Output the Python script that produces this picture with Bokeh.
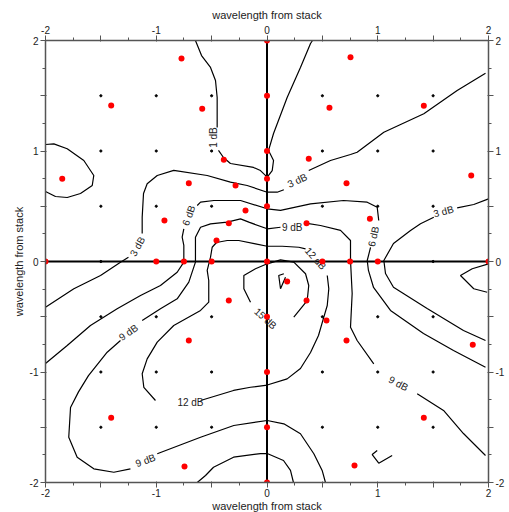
import itertools
from bokeh.plotting import figure
from bokeh.models import Range1d, LinearAxis, FixedTicker, Span
from bokeh.core.properties import value
from bokeh.embed import file_html
from bokeh.resources import INLINE

N = float("nan")

# ---- axis ticks ----
major_ticks = [-2, -1.5, -1, -0.5, 0, 0.5, 1, 1.5, 2]
minor_ticks = [-1.75, -1.25, -0.75, -0.25, 0.25, 0.75, 1.25, 1.75]
tick_labels = {-2: "-2", -1.5: "", -1: "-1", -0.5: "", 0: "0", 0.5: "", 1: "1", 1.5: "", 2: "2"}
axis_title = "wavelength from stack"

# ---- measurement grid (black dots) ----
grid_levels = [-1.5, -1, -0.5, 0.5, 1, 1.5]
grid_x = [gx for gx, gy in itertools.product(grid_levels, grid_levels)] + [-1.5, 1.5]
grid_y = [gy for gx, gy in itertools.product(grid_levels, grid_levels)] + [0, 0]

# ---- sample positions (red dots) ----
red_x = [-0.772, -1.407, -0.585, -1.849, -0.39, -0.706, -0.284, -0.194, -0.345, -0.926, -0.456,
         0.754, 0.564, 1.416, 0.377, 0.718, 1.844, 0.929, 0.357,
         0.182, 0.357, 0.537, 0.718, 1.858, 1.416, 0.79,
         -0.345, -0.706, -1.407, -0.745]
red_y = [1.837, 1.412, 1.382, 0.748, 0.92, 0.709, 0.688, 0.462, 0.347, 0.371, 0.19,
         1.849, 1.391, 1.409, 0.929, 0.709, 0.778, 0.386, 0.347,
         -0.181, -0.353, -0.534, -0.715, -0.754, -1.415, -1.846,
         -0.353, -0.715, -1.415, -1.855]
axis_red_y = [2, 1.5, 1, 0.75, 0.5, 0, -0.5, -1, -1.5, -2]
axis_red_x = [-2, -1, -0.75, -0.5, 0.5, 0.75, 1, 2]

# ---- contour traces (NaN = gap for label) ----
c1_x = [-0.646, -0.591, -0.510, -0.465, -0.450, -0.450, N, -0.438, -0.393, -0.330, -0.122, -0.059, 0.002,
        0.047, 0.059, 0.014, 0.059, 0.182, 0.302, 0.393, 0.411]
c1_y = [2.0, 1.864, 1.756, 1.638, 1.484, 1.213, N, 1.005, 0.941, 0.887, 0.851, 0.823, 0.763,
        0.823, 0.914, 1.005, 1.158, 1.484, 1.756, 1.973, 2.0]

c2_x = [-2.0, -1.925, -1.804, -1.654, -1.564, -1.578, -1.684, -1.804, -1.910, -2.0]
c2_y = [1.059, 1.065, 1.020, 0.914, 0.778, 0.688, 0.615, 0.579, 0.588, 0.633]

c3_x = [-2.0, -1.744, -1.503, -1.323, -1.251, N, -1.127, -1.127, -1.115, -1.082, -0.991, -0.842, -0.540,
        -0.330, -0.179, 0.002, 0.092, 0.152, N, 0.377, 0.573, 0.754, 0.814, 1.055, 1.416, 1.717, 1.973]
c3_y = [-0.414, -0.247, -0.127, -0.006, 0.039, N, 0.253, 0.401, 0.615, 0.703, 0.778, 0.824, 0.778,
        0.718, 0.688, 0.627, 0.627, 0.649, N, 0.824, 0.914, 0.968, 0.989, 1.170, 1.337, 1.548, 1.704]

c4_x = [-2.0, -1.804, -1.594, -1.353, -1.142, -0.962, -0.811, -0.751, -0.751, -0.766, -0.751, N,
        -0.630, -0.600, -0.480, -0.239, 0.002, 0.122, 0.393, 0.691, 0.905, 0.995, 1.009, N,
        0.935, 0.905, 0.916, 0.962, 1.115, 1.413, 1.684, 1.973]
c4_y = [-0.923, -0.760, -0.579, -0.428, -0.308, -0.217, -0.097, -0.006, 0.145, 0.220, 0.296, N,
        0.507, 0.537, 0.552, 0.552, 0.477, 0.462, 0.522, 0.552, 0.537, 0.491, 0.371, N,
        0.127, 0.009, -0.081, -0.235, -0.443, -0.652, -0.805, -0.957]

c5_x = [2.0, 1.867, 1.717, N, 1.506, 1.386, 1.296, 1.142, 1.055, 1.070, 1.142, 1.446, 1.774, 1.973]
c5_y = [0.567, 0.516, 0.486, N, 0.401, 0.341, 0.281, 0.163, 0.009, -0.109, -0.233, -0.425, -0.624, -0.715]

c6_x = [2.0, 1.853, 1.747, 1.867, 1.988]
c6_y = [-0.021, -0.066, -0.127, -0.247, -0.278]

c7_x = [1.973, 1.774, 1.594, 1.356, N, 0.964, 0.814, 0.754, 0.769, 0.754, 0.754, 0.664, 0.483, 0.348, N,
        0.122, 0.002, -0.164, -0.239, -0.359, -0.510, -0.600, -0.646, -0.646, -0.706, -0.811, -0.962, -1.127, N,
        -1.323, -1.443, -1.612, -1.702, -1.774, -1.790, -1.714, -1.564, -1.383, -1.233, N,
        -0.991, -0.600, -0.300, 0.002, 0.152, 0.302, 0.423, 0.498, 0.528]
c7_y = [-1.756, -1.557, -1.348, -1.197, N, -0.926, -0.715, -0.595, -0.290, 0.009, 0.190, 0.281, 0.326, 0.347, N,
        0.310, 0.296, 0.356, 0.386, 0.356, 0.341, 0.310, 0.220, -0.006, -0.187, -0.338, -0.428, -0.534, N,
        -0.715, -0.821, -1.033, -1.180, -1.321, -1.590, -1.771, -1.876, -1.907, -1.876, N,
        -1.740, -1.590, -1.484, -1.439, -1.469, -1.559, -1.740, -1.891, -2.0]

c8_x = [0.544, 0.558, 0.544, 0.513, 0.465, 0.393, 0.302, 0.182, 0.002, -0.149, -0.302, -0.600, N,
        -1.007, -1.112, -1.127, -1.082, -0.991, -0.842, -0.600, -0.526, -0.526, -0.540, -0.510, -0.495,
        -0.456, -0.359, -0.255, -0.104, 0.002, 0.137, 0.287, 0.348]
c8_y = [-0.127, -0.247, -0.398, -0.504, -0.670, -0.824, -0.968, -1.062, -1.118, -1.138, -1.167, -1.258, N,
        -1.258, -1.140, -1.016, -0.881, -0.730, -0.579, -0.443, -0.368, -0.172, -0.081, 0.039, 0.129,
        0.172, 0.190, 0.190, 0.160, 0.138, 0.138, 0.129, 0.115]

c9_x = [-0.630, -0.555, -0.483, -0.302, -0.059, 0.002, 0.149, 0.212, 0.239]
c9_y = [-2.0, -1.937, -1.862, -1.771, -1.738, -1.738, -1.801, -1.891, -2.0]

c10_x = [0.242, 0.363, 0.377, 0.348, 0.242, 0.122, 0.002, -0.104, -0.209, -0.209, -0.149]
c10_y = [-0.504, -0.353, -0.217, -0.111, -0.006, 0.015, -0.021, -0.066, -0.127, -0.247, -0.368]

c11_x = [0.152, 0.106, 0.122, 0.167]
c11_y = [-0.111, -0.127, -0.247, -0.142]

c12_x = [0.995, 0.950, 1.009, 1.130]
c12_y = [-1.710, -1.747, -1.825, -1.756]

contours = [(c1_x, c1_y), (c2_x, c2_y), (c3_x, c3_y), (c4_x, c4_y), (c5_x, c5_y), (c6_x, c6_y),
            (c7_x, c7_y), (c8_x, c8_y), (c9_x, c9_y), (c10_x, c10_y), (c11_x, c11_y), (c12_x, c12_y)]

# ---- contour labels ----
label_text = ["1 dB", "3 dB", "3 dB", "3 dB", "6 dB", "6 dB", "9 dB", "9 dB", "9 dB", "9 dB",
              "12 dB", "12 dB", "15 dB"]
label_x = [-0.483, -1.169, 0.273, 1.594, -0.706, 0.962, 0.228, -1.251, -1.097, 1.187, 0.438, -0.691, -0.014]
label_y = [1.122, 0.136, 0.733, 0.452, 0.416, 0.226, 0.310, -0.643, -1.801, -1.104, 0.027, -1.276, -0.516]
label_angle = [90, 60, 25, 15, 70, 78, 0, 35, 20, -28, -48, 0, -42]

FONT = "Liberation Sans"

p = figure(frame_width=443, frame_height=442,
           x_range=Range1d(-2, 2), y_range=Range1d(-2, 2),
           output_backend="svg", toolbar_location=None,
           min_border_left=45, min_border_right=21, min_border_top=40, min_border_bottom=28)
p.outline_line_color = None
p.xgrid.visible = False
p.ygrid.visible = False

def style_axis(ax, title=None, label_standoff=2, title_standoff=2):
    ax.ticker = FixedTicker(ticks=major_ticks, minor_ticks=minor_ticks)
    ax.major_label_overrides = tick_labels
    ax.axis_line_color = "#555555"
    ax.axis_line_width = 1.5
    ax.major_tick_line_color = "#555555"
    ax.minor_tick_line_color = "#555555"
    ax.major_tick_in = 1
    ax.major_tick_out = 5
    ax.minor_tick_in = 0
    ax.minor_tick_out = 3
    ax.major_label_text_font = FONT
    ax.major_label_text_font_size = "10px"
    ax.major_label_text_color = "#222222"
    ax.major_label_standoff = label_standoff
    if title:
        ax.axis_label = title
        ax.axis_label_text_font = FONT
        ax.axis_label_text_font_size = "11px"
        ax.axis_label_text_font_style = "normal"
        ax.axis_label_text_color = "#222222"
        ax.axis_label_standoff = title_standoff

style_axis(p.xaxis[0], axis_title, label_standoff=1, title_standoff=0)
style_axis(p.yaxis[0], axis_title)
top_axis = LinearAxis()
style_axis(top_axis, axis_title)
p.add_layout(top_axis, "above")
right_axis = LinearAxis()
style_axis(right_axis)
p.add_layout(right_axis, "right")

p.add_layout(Span(location=0, dimension="width", line_color="black", line_width=2, level="underlay"))
p.add_layout(Span(location=0, dimension="height", line_color="black", line_width=2, level="underlay"))

for cx, cy in contours:
    p.line(cx, cy, line_color="black", line_width=1.2)

p.text(x=label_x, y=label_y, text=label_text, angle=label_angle, angle_units="deg",
       text_font=value(FONT), text_font_size="10px", text_color="#222222",
       text_align="center", text_baseline="middle")

p.scatter(grid_x, grid_y, size=2.2, color="black")
p.scatter(red_x, red_y, size=6, color="red", line_color=None)
p.scatter([0] * len(axis_red_y), axis_red_y, size=6, color="red", line_color=None)
p.scatter(axis_red_x, [0] * len(axis_red_x), size=6, color="red", line_color=None)

open("out.html", "w").write(file_html(p, INLINE))
